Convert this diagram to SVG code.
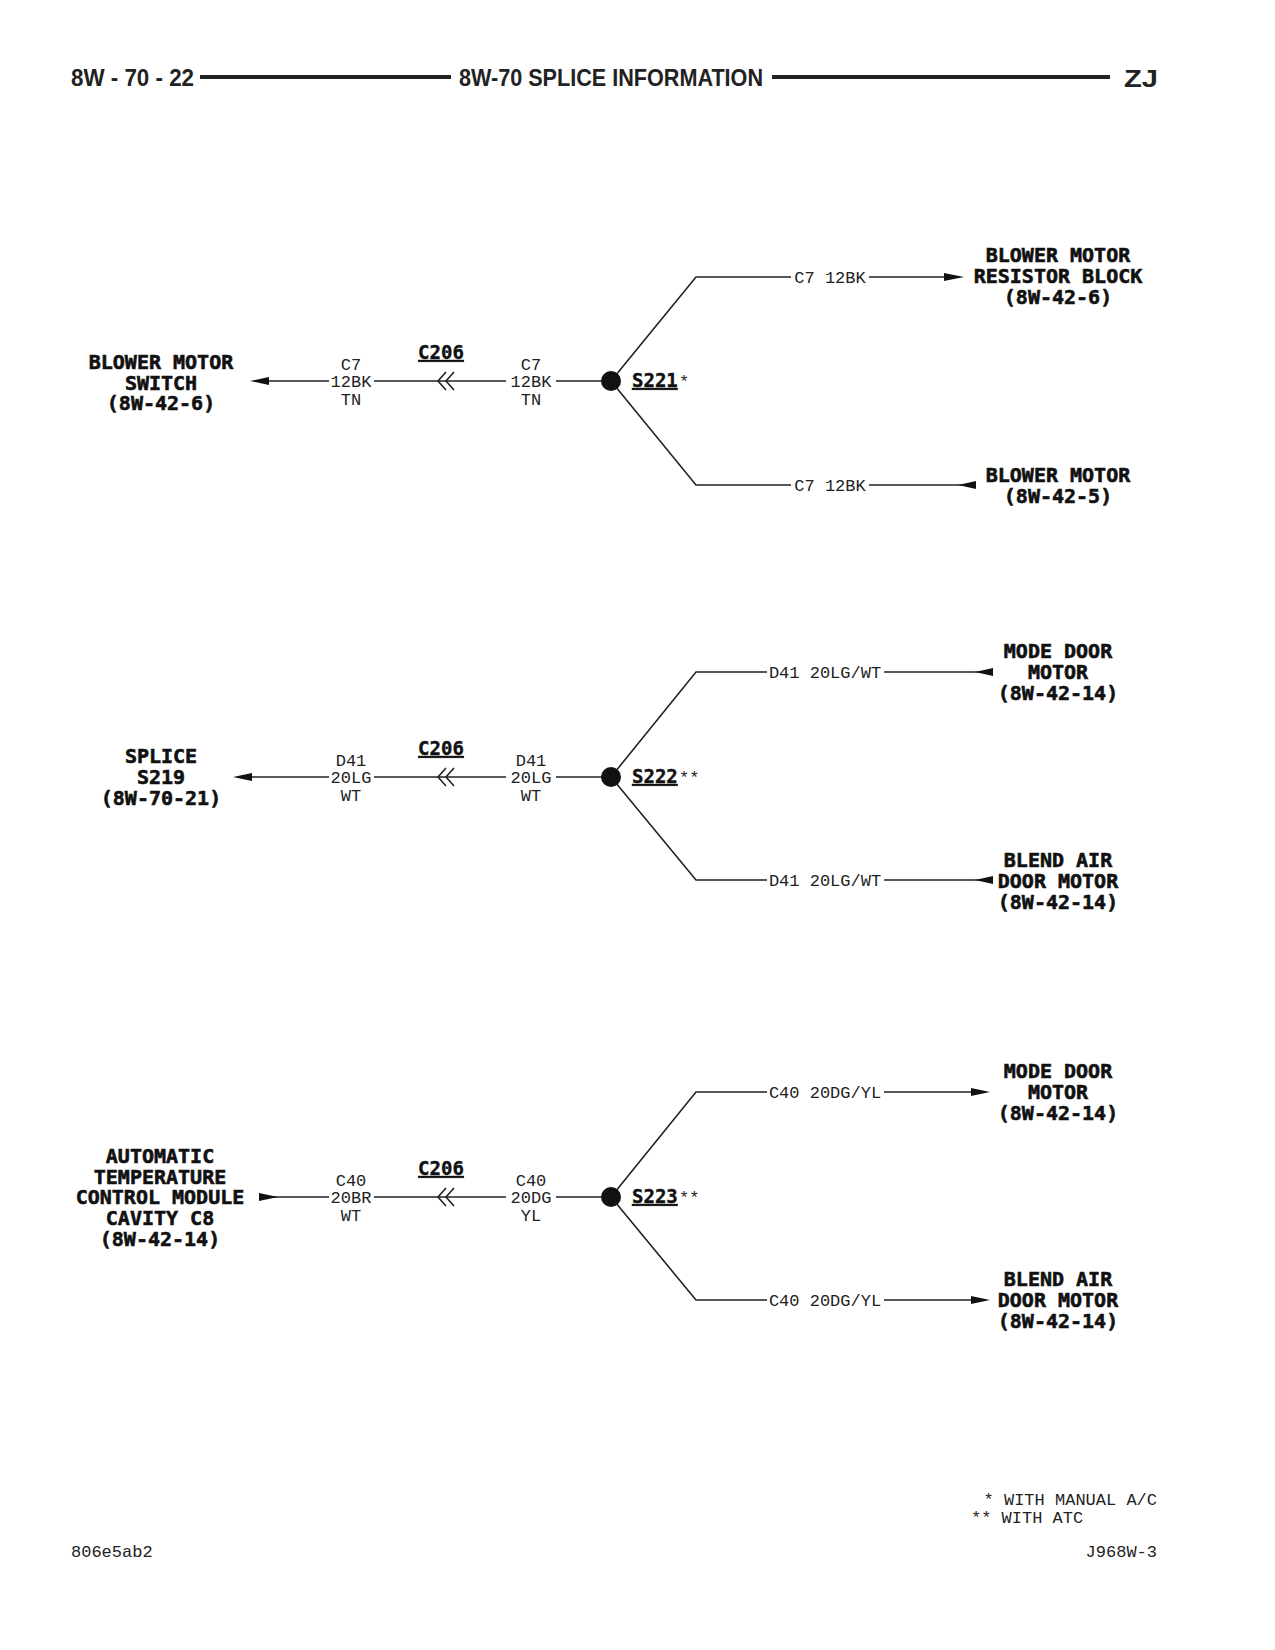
<svg xmlns="http://www.w3.org/2000/svg" width="1275" height="1650" viewBox="0 0 1275 1650">
<style>
.hd{font-family:"Liberation Sans",Arial,sans-serif;font-weight:bold;font-size:24px;fill:#222}
.w{font-family:"Liberation Mono","DejaVu Sans Mono",monospace;font-size:17px;fill:#222}
.b{font-family:"DejaVu Sans Mono","Liberation Mono",monospace;font-weight:bold;font-size:20px;fill:#111;stroke:#111;stroke-width:0.6;text-anchor:middle}
.sp{font-family:"DejaVu Sans Mono",monospace;font-weight:bold;font-size:19px;fill:#111;stroke:#111;stroke-width:0.4;text-decoration:underline}
.ln{stroke:#222;stroke-width:1.6;fill:none}
.m{text-anchor:middle}
</style>
<rect width="1275" height="1650" fill="#fff"/>
<g id="header">
<text class="hd" x="71" y="86" textLength="123" lengthAdjust="spacingAndGlyphs">8W - 70 - 22</text>
<line x1="200" y1="77" x2="451" y2="77" stroke="#222" stroke-width="4"/>
<text class="hd" x="459" y="86" textLength="304" lengthAdjust="spacingAndGlyphs">8W-70  SPLICE INFORMATION</text>
<line x1="772" y1="77" x2="1110" y2="77" stroke="#222" stroke-width="4"/>
<text class="hd" x="1124" y="87" font-size="27" textLength="34" lengthAdjust="spacingAndGlyphs" font-weight="900">ZJ</text>
</g>
<g id="connectors">
<polyline class="ln" points="265,381 329,381"/><polygon points="250,381 269,377 269,385" fill="#111"/>
<polyline class="ln" points="374,381 506,381"/>
<polyline class="ln" points="556,381 611,381"/>
<path class="ln" d="M446,372 L438,381 L446,390 M454,372 L446,381 L454,390"/>
<polyline class="ln" points="611,381 696,277 791,277"/>
<polyline class="ln" points="869,277 946,277"/><polygon points="964,277 944,273 944,281" fill="#111"/>
<polyline class="ln" points="611,381 696,485 791,485"/>
<polyline class="ln" points="869,485 976,485"/><polygon points="958,485 976,481 976,489" fill="#111"/>
<polyline class="ln" points="248,777 329,777"/><polygon points="233,777 252,773 252,781" fill="#111"/>
<polyline class="ln" points="374,777 506,777"/>
<polyline class="ln" points="556,777 611,777"/>
<path class="ln" d="M446,768 L438,777 L446,786 M454,768 L446,777 L454,786"/>
<polyline class="ln" points="611,777 696,672 767,672"/>
<polyline class="ln" points="884,672 991,672"/><polygon points="975,672 993,668 993,676" fill="#111"/>
<polyline class="ln" points="611,777 696,880 767,880"/>
<polyline class="ln" points="884,880 991,880"/><polygon points="975,880 993,876 993,884" fill="#111"/>
<polyline class="ln" points="270,1197 329,1197"/><polygon points="278,1197 259,1193 259,1201" fill="#111"/>
<polyline class="ln" points="374,1197 506,1197"/>
<polyline class="ln" points="556,1197 611,1197"/>
<path class="ln" d="M446,1188 L438,1197 L446,1206 M454,1188 L446,1197 L454,1206"/>
<polyline class="ln" points="611,1197 696,1092 767,1092"/>
<polyline class="ln" points="884,1092 972,1092"/><polygon points="990,1092 971,1088 971,1096" fill="#111"/>
<polyline class="ln" points="611,1197 696,1300 767,1300"/>
<polyline class="ln" points="884,1300 972,1300"/><polygon points="990,1300 971,1296 971,1304" fill="#111"/>
</g>
<g id="wirelabels" class="w">
<text x="351" y="370" class="m">C7</text><text x="351" y="387" class="m">12BK</text><text x="351" y="405" class="m">TN</text>
<text x="531" y="370" class="m">C7</text><text x="531" y="387" class="m">12BK</text><text x="531" y="405" class="m">TN</text>
<text x="830" y="283" class="m">C7 12BK</text><text x="830" y="491" class="m">C7 12BK</text>
<text x="351" y="766" class="m">D41</text><text x="351" y="783" class="m">20LG</text><text x="351" y="801" class="m">WT</text>
<text x="531" y="766" class="m">D41</text><text x="531" y="783" class="m">20LG</text><text x="531" y="801" class="m">WT</text>
<text x="825" y="678" class="m">D41 20LG/WT</text><text x="825" y="886" class="m">D41 20LG/WT</text>
<text x="351" y="1186" class="m">C40</text><text x="351" y="1203" class="m">20BR</text><text x="351" y="1221" class="m">WT</text>
<text x="531" y="1186" class="m">C40</text><text x="531" y="1203" class="m">20DG</text><text x="531" y="1221" class="m">YL</text>
<text x="825" y="1098" class="m">C40 20DG/YL</text><text x="825" y="1306" class="m">C40 20DG/YL</text>
</g>
<g id="c206"><text class="sp" x="441" y="359" text-anchor="middle">C206</text><text class="sp" x="441" y="755" text-anchor="middle">C206</text><text class="sp" x="441" y="1175" text-anchor="middle">C206</text></g>
<g id="S221"><circle cx="611" cy="381" r="10" fill="#111"/><text class="sp" x="632" y="387">S221</text><text class="w" x="679" y="387">*</text></g>
<g id="S222"><circle cx="611" cy="777" r="10" fill="#111"/><text class="sp" x="632" y="783">S222</text><text class="w" x="679" y="783">**</text></g>
<g id="S223"><circle cx="611" cy="1197" r="10" fill="#111"/><text class="sp" x="632" y="1203">S223</text><text class="w" x="679" y="1203">**</text></g>
<g id="blower-switch" class="b"><text x="161" y="369">BLOWER MOTOR</text><text x="161" y="390">SWITCH</text><text x="161" y="410">(8W-42-6)</text></g>
<g id="resistor" class="b"><text x="1058" y="262">BLOWER MOTOR</text><text x="1058" y="283">RESISTOR BLOCK</text><text x="1058" y="304">(8W-42-6)</text></g>
<g id="blower-motor" class="b"><text x="1058" y="482">BLOWER MOTOR</text><text x="1058" y="503">(8W-42-5)</text></g>
<g id="splice-s219" class="b"><text x="161" y="763">SPLICE</text><text x="161" y="784">S219</text><text x="161" y="805">(8W-70-21)</text></g>
<g id="mode-door-1" class="b"><text x="1058" y="658">MODE DOOR</text><text x="1058" y="679">MOTOR</text><text x="1058" y="700">(8W-42-14)</text></g>
<g id="blend-1" class="b"><text x="1058" y="867">BLEND AIR</text><text x="1058" y="888">DOOR MOTOR</text><text x="1058" y="909">(8W-42-14)</text></g>
<g id="atc" class="b"><text x="160" y="1163">AUTOMATIC</text><text x="160" y="1184">TEMPERATURE</text><text x="160" y="1204">CONTROL MODULE</text><text x="160" y="1225">CAVITY C8</text><text x="160" y="1246">(8W-42-14)</text></g>
<g id="mode-door-2" class="b"><text x="1058" y="1078">MODE DOOR</text><text x="1058" y="1099">MOTOR</text><text x="1058" y="1120">(8W-42-14)</text></g>
<g id="blend-2" class="b"><text x="1058" y="1286">BLEND AIR</text><text x="1058" y="1307">DOOR MOTOR</text><text x="1058" y="1328">(8W-42-14)</text></g>
<g id="notes" class="w">
<text x="1157" y="1505" text-anchor="end">* WITH MANUAL A/C</text>
<text x="971" y="1523">** WITH ATC</text>
<text x="71" y="1557">806e5ab2</text>
<text x="1157" y="1557" text-anchor="end">J968W-3</text>
</g>
</svg>
